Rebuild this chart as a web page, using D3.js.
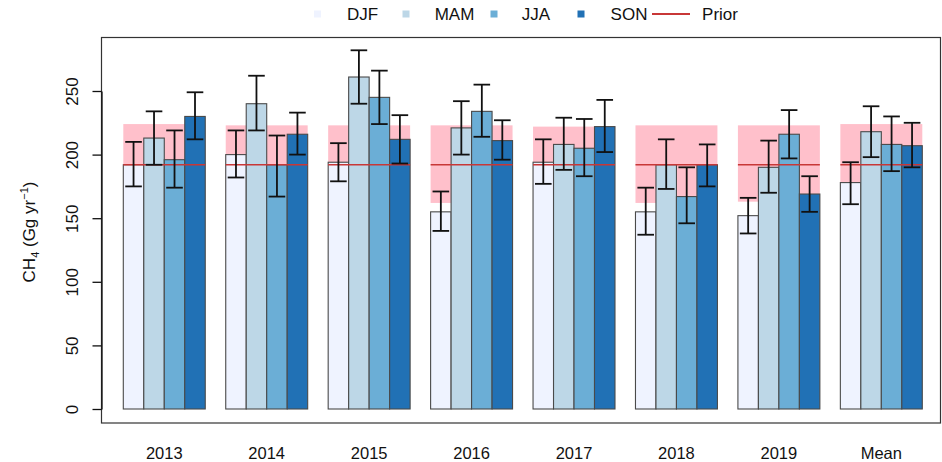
<!DOCTYPE html>
<html><head><meta charset="utf-8">
<script src="https://cdn.jsdelivr.net/npm/d3@7"></script>
<style>body{margin:0;background:#fff}svg{display:block}text{font-family:"Liberation Sans",Arial,sans-serif}</style>
</head><body><svg id="c" width="942" height="462"></svg>
<script>
const groups = ["2013","2014","2015","2016","2017","2018","2019","Mean"];
const seasons = ["DJF","MAM","JJA","SON"];
const colors = ["#eff3ff","#bdd7e7","#6baed6","#2171b5"];
const DJF = [192,200,194,155,194,155,152,178];
const MAM = [213,240,261,221,208,192,190,218];
const JJA = [196,192,245,234,205,167,216,208];
const SON = [230,216,212,211,222,192,169,207];
const DJF_lo = [175,182,179,140,177,137,138,161];
const DJF_hi = [210,219,209,171,212,174,166,194];
const MAM_lo = [192,219,240,200,188,173,170,198];
const MAM_hi = [234,262,282,242,229,212,211,238];
const JJA_lo = [174,167,224,214,183,146,197,187];
const JJA_hi = [219,215,266,255,228,190,235,230];
const SON_lo = [212,200,193,196,202,175,155,190];
const SON_hi = [249,233,231,227,243,208,183,225];
const prior = [192,192,192,192,192,192,192,192];
const prior_lo = [161,161,161,162,161,162,163,161];
const prior_hi = [224,223,223,223,222,223,223,224];
const yTicks = [0,50,100,150,200,250];

const values = [DJF,MAM,JJA,SON];
const lows = [DJF_lo,MAM_lo,JJA_lo,SON_lo];
const highs = [DJF_hi,MAM_hi,JJA_hi,SON_hi];

const svg = d3.select("#c");
const x0 = d3.scaleBand().domain(groups).range([123.3,922.3]).paddingInner(0.2).paddingOuter(0);
const x1 = d3.scaleBand().domain(seasons).range([0,x0.bandwidth()]).padding(0);
const y = d3.scaleLinear().domain([0,250]).range([409,91]);

// prior ranges
svg.append("g").selectAll("rect").data(groups).join("rect")
  .attr("x", d=>x0(d)).attr("width", x0.bandwidth())
  .attr("y", (d,i)=>y(prior_hi[i])).attr("height",(d,i)=>y(prior_lo[i])-y(prior_hi[i]))
  .attr("fill","#ffc0cb");

// bars
const barData = [];
groups.forEach((g,i)=>seasons.forEach((s,j)=>barData.push({g,s,j,v:values[j][i],lo:lows[j][i],hi:highs[j][i]})));
svg.append("g").selectAll("rect").data(barData).join("rect")
  .attr("x", d=>x0(d.g)+x1(d.s)).attr("width", x1.bandwidth())
  .attr("y", d=>y(d.v)).attr("height", d=>y(0)-y(d.v))
  .attr("fill", d=>colors[d.j]).attr("stroke","#4a4a4a").attr("stroke-width",1.1);

// prior line
svg.append("g").selectAll("line").data(groups).join("line")
  .attr("x1", d=>x0(d)).attr("x2", d=>x0(d)+x0.bandwidth())
  .attr("y1",(d,i)=>y(prior[i])).attr("y2",(d,i)=>y(prior[i]))
  .attr("stroke","#c83737").attr("stroke-width",1.5);

// error bars
const eb = svg.append("g").attr("stroke","#111").attr("stroke-width",1.8).attr("fill","none");
barData.forEach(d=>{
  const cx = x0(d.g)+x1(d.s)+x1.bandwidth()/2, w=8.3;
  eb.append("line").attr("x1",cx).attr("x2",cx).attr("y1",y(d.lo)).attr("y2",y(d.hi));
  eb.append("line").attr("x1",cx-w).attr("x2",cx+w).attr("y1",y(d.lo)).attr("y2",y(d.lo));
  eb.append("line").attr("x1",cx-w).attr("x2",cx+w).attr("y1",y(d.hi)).attr("y2",y(d.hi));
});

// box
svg.append("rect").attr("x",101.5).attr("y",37.5).attr("width",839).attr("height",385.5)
  .attr("fill","none").attr("stroke","#333").attr("stroke-width",1.2);

// y axis
const ya = svg.append("g").attr("transform","translate(101.5,0)").call(d3.axisLeft(y).tickValues(yTicks).tickSize(9).tickSizeOuter(0));
ya.select(".domain").attr("stroke","#111").attr("stroke-width",1.3);
ya.selectAll(".tick line").attr("stroke","#111").attr("stroke-width",1.3);
ya.selectAll(".tick text").attr("transform","rotate(-90)").attr("x",0).attr("y",-29).attr("dy","0.35em")
  .attr("text-anchor","middle").attr("font-size",17).attr("fill","#111").style("font-family","Liberation Sans, Arial, sans-serif");

// x labels
svg.append("g").selectAll("text").data(groups).join("text")
  .attr("x", d=>x0(d)+x0.bandwidth()/2).attr("y",453).attr("dy","0.35em").attr("text-anchor","middle")
  .attr("font-size",16.5).attr("fill","#111").text(d=>d);

// y title
const t = svg.append("text").attr("transform","translate(35,232) rotate(-90)").attr("text-anchor","middle").attr("font-size",17).attr("fill","#111");
t.append("tspan").text("CH");
t.append("tspan").attr("font-size",11).attr("dy",4).text("4");
t.append("tspan").attr("dy",-4).text(" (Gg yr");
t.append("tspan").attr("font-size",11).attr("dy",-7).text("−1");
t.append("tspan").attr("dy",7).text(")");

// legend
const leg = svg.append("g");
const legX = [317.5,406,494,581];
const legTX = [362.5,454.5,536,629];
seasons.forEach((s,j)=>{
  leg.append("rect").attr("x",legX[j]-3.5).attr("y",10.5).attr("width",7).attr("height",7).attr("fill",colors[j]);
  leg.append("text").attr("x",legTX[j]).attr("y",14.5).attr("dy","0.35em").attr("text-anchor","middle").attr("font-size",17).attr("fill","#111").text(s);
});
leg.append("line").attr("x1",652).attr("x2",690).attr("y1",14).attr("y2",14).attr("stroke","#c83737").attr("stroke-width",2);
leg.append("text").attr("x",720).attr("y",14.5).attr("dy","0.35em").attr("text-anchor","middle").attr("font-size",17).attr("fill","#111").text("Prior");
</script></body></html>
